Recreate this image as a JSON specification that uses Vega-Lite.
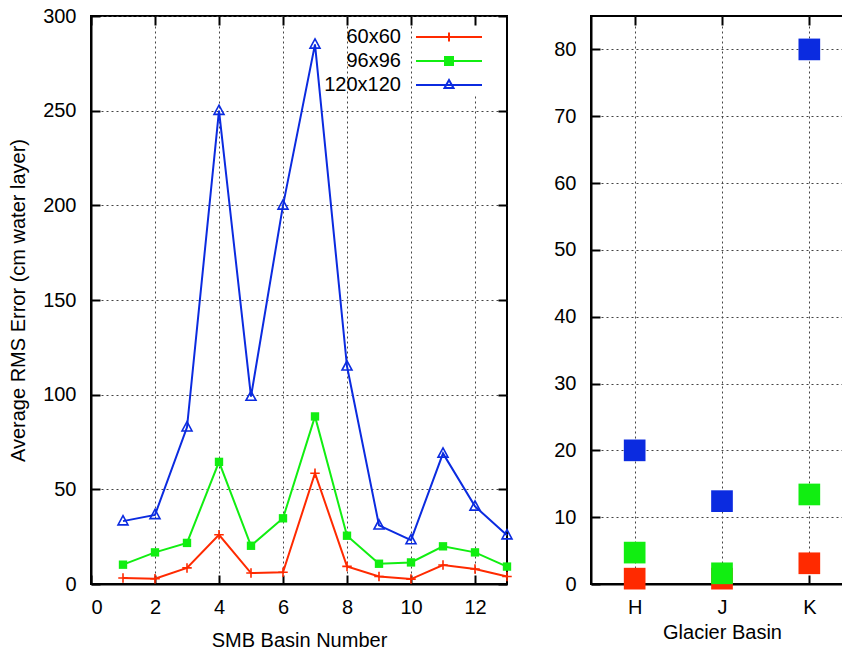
{
  "$schema": "https://vega.github.io/schema/vega-lite/v6.json",
  "background": "white",
  "padding": {"left": 7, "top": 5, "right": 0, "bottom": 0},
  "spacing": 34,
  "resolve": {"scale": {"color": "independent"}, "legend": {"color": "independent"}},
  "config": {
    "font": "Liberation Sans",
    "view": {"stroke": "black", "strokeWidth": 2},
    "axis": {
      "labelFont": "Liberation Sans", "labelFontSize": 20, "labelColor": "black",
      "titleFont": "Liberation Sans", "titleFontSize": 20, "titleFontWeight": "normal", "titleColor": "black",
      "domainColor": "black", "domainWidth": 2,
      "tickColor": "black", "tickWidth": 2, "tickSize": -9,
      "grid": true, "gridColor": "#444444", "gridDash": [2, 3], "gridWidth": 1
    }
  },
  "datasets": {
    "smb": [
      {"basin": 1, "series": "60x60", "rms": 3.2},
      {"basin": 2, "series": "60x60", "rms": 2.8},
      {"basin": 3, "series": "60x60", "rms": 8.5},
      {"basin": 4, "series": "60x60", "rms": 26},
      {"basin": 5, "series": "60x60", "rms": 5.8},
      {"basin": 6, "series": "60x60", "rms": 6.2},
      {"basin": 7, "series": "60x60", "rms": 58.5},
      {"basin": 8, "series": "60x60", "rms": 9.3},
      {"basin": 9, "series": "60x60", "rms": 4},
      {"basin": 10, "series": "60x60", "rms": 2.6},
      {"basin": 11, "series": "60x60", "rms": 10},
      {"basin": 12, "series": "60x60", "rms": 7.9},
      {"basin": 13, "series": "60x60", "rms": 4},
      {"basin": 1, "series": "96x96", "rms": 10.2},
      {"basin": 2, "series": "96x96", "rms": 16.7},
      {"basin": 3, "series": "96x96", "rms": 21.7},
      {"basin": 4, "series": "96x96", "rms": 64.5},
      {"basin": 5, "series": "96x96", "rms": 20.2},
      {"basin": 6, "series": "96x96", "rms": 34.7},
      {"basin": 7, "series": "96x96", "rms": 88.5},
      {"basin": 8, "series": "96x96", "rms": 25.5},
      {"basin": 9, "series": "96x96", "rms": 10.7},
      {"basin": 10, "series": "96x96", "rms": 11.4},
      {"basin": 11, "series": "96x96", "rms": 19.9},
      {"basin": 12, "series": "96x96", "rms": 16.7},
      {"basin": 13, "series": "96x96", "rms": 9.2},
      {"basin": 1, "series": "120x120", "rms": 33.2},
      {"basin": 2, "series": "120x120", "rms": 36.5},
      {"basin": 3, "series": "120x120", "rms": 82.8},
      {"basin": 4, "series": "120x120", "rms": 250},
      {"basin": 5, "series": "120x120", "rms": 99},
      {"basin": 6, "series": "120x120", "rms": 200},
      {"basin": 7, "series": "120x120", "rms": 285},
      {"basin": 8, "series": "120x120", "rms": 115},
      {"basin": 9, "series": "120x120", "rms": 31},
      {"basin": 10, "series": "120x120", "rms": 23.2},
      {"basin": 11, "series": "120x120", "rms": 69},
      {"basin": 12, "series": "120x120", "rms": 41},
      {"basin": 13, "series": "120x120", "rms": 25.8}
    ],
    "glacier": [
      {"basin": "H", "series": "60x60", "rms": 0.8},
      {"basin": "J", "series": "60x60", "rms": 0.8},
      {"basin": "K", "series": "60x60", "rms": 3.1},
      {"basin": "H", "series": "96x96", "rms": 4.7},
      {"basin": "J", "series": "96x96", "rms": 1.6},
      {"basin": "K", "series": "96x96", "rms": 13.4},
      {"basin": "H", "series": "120x120", "rms": 20},
      {"basin": "J", "series": "120x120", "rms": 12.4},
      {"basin": "K", "series": "120x120", "rms": 80}
    ]
  },
  "hconcat": [
    {
      "width": 416,
      "height": 568,
      "data": {"name": "smb"},
      "resolve": {"axis": {"x": "independent", "y": "independent"}},
      "layer": [
        {
          "mark": {"type": "line", "strokeWidth": 2},
          "encoding": {
            "x": {"field": "basin", "type": "quantitative", "scale": {"domain": [0, 13], "nice": false}, "axis": {"values": [0, 2, 4, 6, 8, 10, 12], "title": "SMB Basin Number", "labelPadding": 22, "titlePadding": 13}},
            "y": {"field": "rms", "type": "quantitative", "scale": {"domain": [0, 300], "nice": false}, "axis": {"values": [0, 50, 100, 150, 200, 250, 300], "title": "Average RMS Error (cm water layer)", "labelPadding": 24, "titlePadding": 14}},
            "color": {"field": "series", "type": "nominal", "scale": {"domain": ["60x60", "96x96", "120x120"], "range": ["#ff2a00", "#11ee11", "#0b2be0"]}, "legend": null},
            "order": {"field": "basin", "type": "quantitative"}
          }
        },
        {
          "transform": [{"filter": "datum.series === '60x60'"}],
          "mark": {"type": "point", "filled": false, "strokeWidth": 1.6, "opacity": 1, "shape": "M-1,0H1M0,-1V1", "size": 90},
          "encoding": {
            "x": {"field": "basin", "type": "quantitative", "axis": null},
            "y": {"field": "rms", "type": "quantitative", "axis": null},
            "color": {"field": "series", "type": "nominal", "legend": null}
          }
        },
        {
          "transform": [{"filter": "datum.series === '96x96'"}],
          "mark": {"type": "point", "filled": true, "opacity": 1, "shape": "square", "size": 70},
          "encoding": {
            "x": {"field": "basin", "type": "quantitative", "axis": null},
            "y": {"field": "rms", "type": "quantitative", "axis": null},
            "color": {"field": "series", "type": "nominal", "legend": null}
          }
        },
        {
          "transform": [{"filter": "datum.series === '120x120'"}],
          "mark": {"type": "point", "filled": false, "strokeWidth": 1.6, "opacity": 1, "shape": "M0,-1.1L1,0.75H-1Z", "size": 100},
          "encoding": {
            "x": {"field": "basin", "type": "quantitative", "axis": null},
            "y": {"field": "rms", "type": "quantitative", "axis": null},
            "color": {"field": "series", "type": "nominal", "legend": null}
          }
        },
        {
          "mark": {"type": "point", "opacity": 0, "strokeWidth": 2},
          "encoding": {
            "x": {"field": "basin", "type": "quantitative", "axis": {"orient": "top", "labels": false, "title": null, "grid": false, "domain": false, "values": [0, 2, 4, 6, 8, 10, 12]}},
            "y": {"field": "rms", "type": "quantitative", "axis": {"orient": "right", "labels": false, "title": null, "grid": false, "domain": false, "values": [0, 50, 100, 150, 200, 250, 300]}},
            "stroke": {"field": "series", "type": "nominal", "scale": {"domain": ["60x60", "96x96", "120x120"], "range": ["#ff2a00", "#11ee11", "#0b2be0"]}},
            "fill": {"field": "series", "type": "nominal", "scale": {"domain": ["60x60", "96x96", "120x120"], "range": ["transparent", "#11ee11", "transparent"]}},
            "shape": {
              "field": "series", "type": "nominal",
              "scale": {"domain": ["60x60", "96x96", "120x120"], "range": ["M-3.3,0H3.3M0,-0.45V0.45", "M-3.3,0H3.3M-0.4,-0.4H0.4V0.4H-0.4Z", "M-3.3,0H3.3M0,-0.5L0.45,0.3H-0.45Z"]},
              "legend": {
                "title": null, "orient": "none", "legendX": 347, "legendY": 10,
                "labelAlign": "right", "labelOffset": -59, "labelFontSize": 20, "labelFont": "Liberation Sans", "labelColor": "black",
                "symbolSize": 400, "symbolStrokeWidth": 2, "symbolOpacity": 1, "rowPadding": 3, "padding": 0,
                "fillColor": "white"
              }
            }
          }
        }
      ]
    },
    {
      "width": 262,
      "height": 568,
      "data": {"name": "glacier"},
      "resolve": {"axis": {"x": "independent", "y": "independent"}},
      "layer": [
        {
          "mark": {"type": "square", "size": 470, "opacity": 1},
          "encoding": {
            "x": {"field": "basin", "type": "nominal", "scale": {"type": "point", "padding": 0.5}, "axis": {"labelAngle": 0, "title": "Glacier Basin", "labelPadding": 22, "titlePadding": 5}},
            "y": {"field": "rms", "type": "quantitative", "scale": {"domain": [0, 85], "nice": false}, "axis": {"values": [0, 10, 20, 30, 40, 50, 60, 70, 80], "title": null, "labelPadding": 24}},
            "color": {"field": "series", "type": "nominal", "scale": {"domain": ["60x60", "96x96", "120x120"], "range": ["#ff2a00", "#11ee11", "#0b2be0"]}, "legend": null}
          }
        },
        {
          "mark": {"type": "point", "opacity": 0},
          "encoding": {
            "x": {"field": "basin", "type": "nominal", "axis": {"orient": "top", "labels": false, "title": null, "grid": false, "domain": false}},
            "y": {"field": "rms", "type": "quantitative", "axis": {"orient": "right", "labels": false, "title": null, "grid": false, "domain": false, "values": [0, 10, 20, 30, 40, 50, 60, 70, 80]}}
          }
        }
      ]
    }
  ]
}
